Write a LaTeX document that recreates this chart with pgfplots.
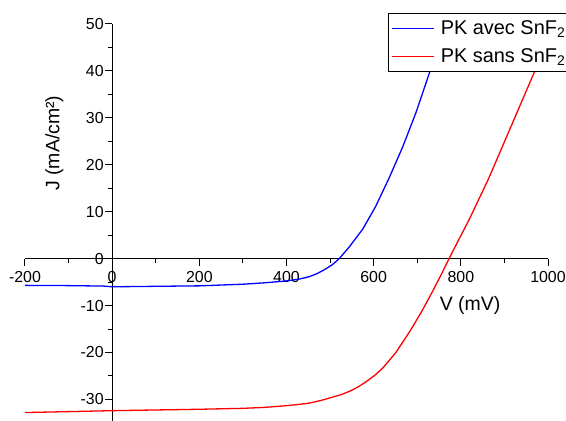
\documentclass[border=0pt]{standalone}
\usepackage{fontspec}
\setmainfont{Liberation Sans}
\usepackage{pgfplots}
\pgfplotsset{compat=1.18}

\newcommand{\tickfont}{\fontsize{16}{18}\selectfont}
\newcommand{\labfont}{\fontsize{19.5}{22}\selectfont}
\newcommand{\legfont}{\fontsize{20}{24}\selectfont}

\begin{document}
\begin{tikzpicture}
\path[use as bounding box] (-25bp,0bp) rectangle (541bp,421bp);
\begin{axis}[
    scale only axis,
    width=523bp, height=397bp,
    xmin=-200, xmax=1000,
    ymin=-34.6, ymax=50,
    axis lines*=middle,
    hide obscured x ticks=false,
    hide obscured y ticks=false,
    xtick={-200,0,...,1000},
    ytick={-30,-20,...,50},
    minor x tick num=1,
    minor y tick num=1,
    tick align=outside,
    major tick length=7bp,
    minor tick length=4bp,
    tick style={black, line width=1bp},
    axis line style={black, line width=1.2bp},
    ticklabel style={font=\tickfont},
    xticklabel style={yshift=-2bp},
    yticklabel style={xshift=2bp},
    /pgf/number format/assume math mode=true,
    /pgf/number format/set thousands separator={},
    legend style={at={(axis description cs:0.694,1.0277)}, anchor=north west,
        draw=black, line width=1bp, fill=white, font=\legfont,
        inner xsep=3bp, inner ysep=5bp, row sep=9bp,
        /tikz/every odd column/.append style={column sep=4bp}},
    legend cell align=left,
    legend image code/.code={\draw[#1] (0bp,0bp) -- (42bp,0bp);},
]
\addplot[blue, line width=1.3bp] coordinates {
    (-200,-5.7) (-100,-5.75) (-20,-5.85) (0,-6.0) (50,-5.95) (100,-5.9)
    (200,-5.8) (300,-5.45) (350,-5.15) (400,-4.75) (430,-4.35)
    (452,-3.85) (470,-3.2) (490,-2.2) (505,-1.3) (521,0) (544,2.5)
    (575,6.3) (605,11.2) (636,17.3) (667,23.9) (697,31.1) (728,39.6)
    (750,45.6) (775,52.5)
};
\addlegendentry{PK avec SnF\textsubscript{2}}
\addplot[red, line width=1.3bp] coordinates {
    (-200,-32.8) (-100,-32.6) (0,-32.4) (100,-32.25) (200,-32.1)
    (300,-31.9) (350,-31.7) (391,-31.4) (420,-31.15) (452,-30.8)
    (480,-30.2) (506,-29.5) (525,-29.0) (544,-28.3) (565,-27.3)
    (583,-26.2) (602,-24.9) (621,-23.3) (651,-20.0) (683,-15.5)
    (710,-11.3) (735,-7.0) (755,-3.4) (773,0) (795,4.0) (819,8.3)
    (863,16.9) (907,26.4) (968,39.6) (1000,46.6)
};
\addlegendentry{PK sans SnF\textsubscript{2}}
\node[font=\labfont] at (axis description cs:0.851,0.29) {V (mV)};
\node[font=\labfont, rotate=90] at (axis description cs:0.056,0.70) {J (mA/cm²)};
\end{axis}
\end{tikzpicture}
\end{document}
